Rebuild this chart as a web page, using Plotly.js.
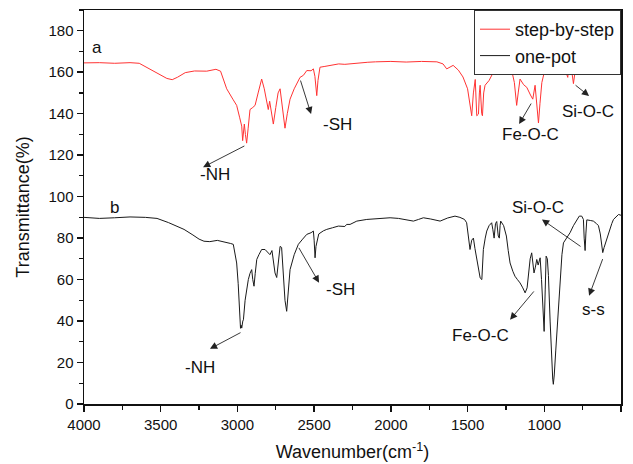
<!DOCTYPE html>
<html>
<head>
<meta charset="utf-8">
<script src="https://cdn.plot.ly/plotly-3.0.1.min.js"></script>
<style>html,body{margin:0;padding:0;background:#fff;}#chart{width:633px;height:464px;}</style>
</head>
<body>
<div id="chart"></div>
<script>
// step-by-step (curve a)
var waveA = [4000,3900,3800,3700,3640,3580,3520,3460,3425,3390,3340,3280,3200,3140,3110,3070,3030,3005,2985,2972,2966,2960,2955,2948,2940,2930,2918,2900,2885,2865,2842,2825,2805,2799,2790,2780,2766,2750,2735,2722,2705,2690,2675,2657,2630,2592,2570,2548,2520,2505,2495,2483,2475,2462,2430,2396,2340,2300,2222,2150,2100,2000,1900,1800,1700,1660,1636,1610,1594,1560,1530,1500,1485,1473,1462,1450,1440,1429,1423,1418,1408,1403,1395,1386,1360,1332,1300,1267,1240,1212,1195,1185,1180,1170,1158,1135,1114,1090,1075,1060,1048,1038,1028,1016,1000,984,960,941,900,870,854,847,840,830,820,810,800,788,760,723,680,600,550,500];
var transA = [164.5,164.6,164.3,164.6,164.3,162,159.5,157,156.4,157.6,159.8,160.6,160.5,161.4,160.5,152,147,144,138,134,127,131,135,130,125.8,133,142,143,144,150,156.7,152,143,142,146,141,135,143,150,152,143,133,140,147,152,157.5,158.5,160.8,160.7,161.6,158,148.7,156,162.4,162.8,163.3,164,163.8,164.5,164.8,165,165.2,164.9,165.2,165,164,161.6,162.8,163.3,161,157.7,152,145,139,150,156.5,139,139.8,150,153.7,140,139,150,153.7,156,160,161.5,163.3,162.5,160.8,155,146,144,150,156.7,154,152.7,149,147,153.7,142,135.5,145,155,160,162.4,164,164.8,164.5,164.4,159,157.5,163,163.5,160,154.5,160,163.3,164.6,165,164.5,164.8,164.3,164.5];

// one-pot (curve b)
var waveB = [4000,3900,3800,3700,3600,3524,3450,3400,3348,3290,3250,3218,3180,3131,3080,3044,3027,3015,3005,2995,2985,2980,2976,2972,2965,2961,2950,2940,2929,2918,2907,2900,2892,2884,2874,2860,2842,2820,2799,2788,2775,2762,2755,2744,2735,2722,2712,2700,2690,2679,2670,2657,2630,2603,2575,2548,2520,2505,2500,2494,2488,2470,2440,2418,2380,2342,2300,2288,2266,2222,2157,2100,2050,2005,1950,1900,1853,1820,1788,1740,1700,1679,1630,1582,1550,1520,1506,1495,1484,1473,1462,1452,1440,1430,1418,1407,1397,1385,1375,1360,1343,1335,1327,1318,1310,1300,1293,1288,1284,1265,1247,1235,1223,1205,1191,1175,1158,1140,1125,1112,1103,1092,1082,1074,1067,1058,1049,1040,1027,1018,1010,1001,994,988,980,973,962,952,945,941,935,925,908,895,885,875,855,832,810,788,772,756,745,740,734,729,723,700,680,660,647,635,625,619,610,600,592,575,560,549,530,516,500];
var transB = [90,89.5,89.8,90.2,90,89.5,87.5,86,84.2,81.5,79.5,78.5,78.3,78.9,78.2,77.4,77,72,68,58,42,36.5,38,36.6,40,40.6,50,56,60,63,64.8,60,56.8,63,69.7,72,74.5,74.5,73,72,74,66,63.2,61,68,76,75.5,62,50,44.7,52,64.8,72,77,79.5,81.8,82.6,83.4,79,70.5,76,82,83.5,84.2,85,85.8,85.6,86.6,86.6,88.2,89,89.3,89.6,89.8,89.5,88.8,88.2,89,89.8,89.2,88.5,88.2,89.7,90.6,90,89,87.4,82,74.5,79,80,75,69.7,64,60.8,60,74.5,80,83.4,86,87.4,84,80,87,88,81,80,86,88.2,86,81,74,68,64,61.6,60,58.4,56,53.6,56,63.2,70,72.9,68,63.2,66,69.7,67,70.5,60,45,35,55,71.3,70,62,40,20,12,9.5,14,26,43.9,62,72,77.7,80,82.6,86,89,90.6,90.6,89,80,74,82,88.8,88.5,88.2,87,86,82,77,73,75.5,78,79,84,87,89,90.5,91.4,91];

var seriesNames = ['step-by-step', 'one-pot'];
var xTitle = 'Wavenumber(cm<sup>-1</sup>)';
var yTitle = 'Transmittance(%)';

var FONT = 'Liberation Sans, Arial, sans-serif';

var traces = [
  {x: waveA, y: transA, type: 'scatter', mode: 'lines', name: seriesNames[0],
   line: {color: '#ff3333', width: 1}},
  {x: waveB, y: transB, type: 'scatter', mode: 'lines', name: seriesNames[1],
   line: {color: '#1a1a1a', width: 1}}
];

function label(text, x, y) {
  return {x: x, y: y, xref: 'x', yref: 'y', text: text, showarrow: false,
          font: {family: FONT, size: 17, color: '#111'}};
}
function arrow(x, y, ax, ay) {
  return {x: x, y: y, ax: ax, ay: ay, xref: 'x', yref: 'y', axref: 'x', ayref: 'y',
          text: '', showarrow: true, arrowhead: 2, arrowsize: 1.6, arrowwidth: 0.9,
          arrowcolor: '#222', standoff: 0, startstandoff: 0};
}

var annotations = [
  label('a', 3915, 172),
  label('b', 3800, 95),
  label('-NH', 3146, 110.5),
  arrow(3224, 114.2, 2945, 124.8),
  label('-SH', 2351, 135),
  arrow(2520, 139.8, 2592, 156.7),
  label('Fe-O-C', 1093, 130),
  arrow(1164, 135, 1080, 145.6),
  label('Si-O-C', 715, 141),
  arrow(708, 148.5, 806, 154.3),
  label('-NH', 3244, 17.5),
  arrow(3179, 26.6, 2970, 34.8),
  label('-SH', 2331, 55),
  arrow(2468, 58.5, 2605, 76),
  label('Fe-O-C', 1418, 33),
  arrow(1223, 40.6, 1060, 55),
  label('Si-O-C', 1041, 95),
  arrow(1015, 89, 754, 75.5),
  label('s-s', 682, 45.5),
  arrow(708, 52.2, 616, 70.6)
];

var layout = {
  width: 633, height: 464,
  margin: {l: 84, r: 12, t: 10, b: 60},
  paper_bgcolor: '#fff', plot_bgcolor: '#fff',
  font: {family: FONT, size: 15, color: '#111'},
  showlegend: true,
  legend: {x: 1, y: 1, xanchor: 'right', yanchor: 'top', bgcolor: '#fff',
           bordercolor: '#333', borderwidth: 1, font: {family: FONT, size: 18, color: '#111'},
           tracegroupgap: 0},
  xaxis: {
    range: [4000, 500], showgrid: false, zeroline: false,
    showline: true, linecolor: '#111', linewidth: 1.5, mirror: true,
    ticks: 'outside', ticklen: 6, tickwidth: 1.5, tickcolor: '#111',
    dtick: 500, tick0: 500,
    minor: {dtick: 250, ticks: 'outside', ticklen: 4, tickwidth: 1.2, tickcolor: '#111'},
    tickfont: {family: FONT, size: 15, color: '#111'},
    title: {text: xTitle, font: {family: FONT, size: 18, color: '#111'}, standoff: 14}
  },
  yaxis: {
    range: [0, 190], showgrid: false, zeroline: false,
    showline: true, linecolor: '#111', linewidth: 1.5, mirror: true,
    ticks: 'outside', ticklen: 6, tickwidth: 1.5, tickcolor: '#111',
    dtick: 20, tick0: 0,
    minor: {dtick: 10, ticks: 'outside', ticklen: 4, tickwidth: 1.2, tickcolor: '#111'},
    tickfont: {family: FONT, size: 15, color: '#111'},
    title: {text: yTitle, font: {family: FONT, size: 18, color: '#111'}, standoff: 14}
  },
  annotations: annotations
};

Plotly.newPlot('chart', traces, layout, {displayModeBar: false, staticPlot: true});
</script>
</body>
</html>
